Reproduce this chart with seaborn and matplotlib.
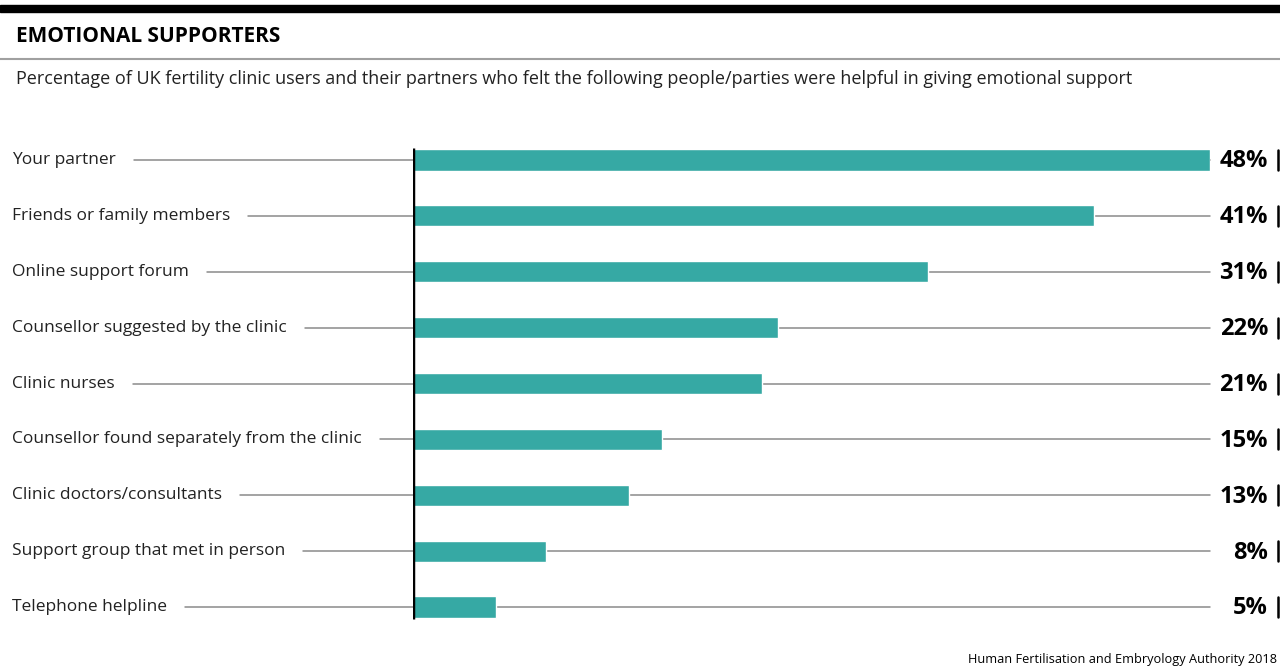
import matplotlib
matplotlib.use("Agg")
import matplotlib.pyplot as plt
import seaborn as sns
import pandas as pd

# Datos
categorias = ["Your partner", "Friends or family members", "Online support forum",
              "Counsellor suggested by the clinic", "Clinic nurses",
              "Counsellor found separately from the clinic", "Clinic doctors/consultants",
              "Support group that met in person", "Telephone helpline"]
valores = [48, 41, 31, 22, 21, 15, 13, 8, 5]

titulo = "EMOTIONAL SUPPORTERS"
subtitulo = ("Percentage of UK fertility clinic users and their partners who felt "
             "the following people/parties were helpful in giving emotional support")
fuente = "Human Fertilisation and Embryology Authority 2018"

df = pd.DataFrame({"categoria": categorias, "valor": valores})

sns.set_style("white")
plt.rcParams["font.family"] = ["Open Sans", "DejaVu Sans"]

W, H = 1280, 668
fig = plt.figure(figsize=(W / 100, H / 100), dpi=100)
ax = fig.add_axes([413 / W, 1 - 635 / H, (1210 - 413) / W, (635 - 132) / H])

teal = "#36a9a4"
sns.barplot(data=df, x="valor", y="categoria", orient="h", color=teal,
            width=0.38, saturation=1, ax=ax, zorder=3)
ax.set_xlim(0, max(valores))
ax.set_ylim(len(categorias) - 0.5, -0.5)
ax.axis("off")

# eje vertical negro
ax.plot([0, 0], [-0.22, len(categorias) - 1 + 0.22], color="black", lw=2.5,
        zorder=4, solid_capstyle="butt")

fig.canvas.draw()
renderer = fig.canvas.get_renderer()

for i, (cat, v) in enumerate(zip(categorias, valores)):
    # etiqueta de la categoría
    y_fig = ax.transData.transform((0, i))[1]
    t = fig.text(12 / W, y_fig / H, cat, fontsize=12.5, color="#222222",
                 ha="left", va="center")
    bb = t.get_window_extent(renderer)
    x0 = ax.transData.inverted().transform((bb.x1 + 18, 0))[0]
    ax.plot([x0, max(valores)], [i, i], color="#8a8a8a", lw=1.1, zorder=1,
            clip_on=False)
    # porcentaje
    fig.text(1268 / W, y_fig / H - 0.002, f"{v}%", fontsize=17, fontweight="bold",
             color="black", ha="right", va="center")
    fig.add_artist(plt.Line2D([1277.5 / W, 1277.5 / W],
                              [(y_fig - 10) / H, (y_fig + 10) / H],
                              color="black", lw=1.8))

# cabecera
fig.add_artist(plt.Rectangle((0, 1 - 12 / H), 1, 7 / H, color="black",
                             transform=fig.transFigure))
fig.add_artist(plt.Line2D([0, 1], [1 - 58.5 / H] * 2, color="#a0a0a0", lw=1.5))
fig.text(16 / W, 1 - 37 / H, titulo, fontsize=15, fontweight="bold",
         color="black", ha="left", va="center")
fig.text(16 / W, 1 - 79 / H, subtitulo, fontsize=13, color="#222222",
         ha="left", va="center")
fig.text(1277 / W, 1 - 660 / H, fuente, fontsize=9.2, color="black",
         ha="right", va="center")

fig.savefig("out.png", dpi=100)
